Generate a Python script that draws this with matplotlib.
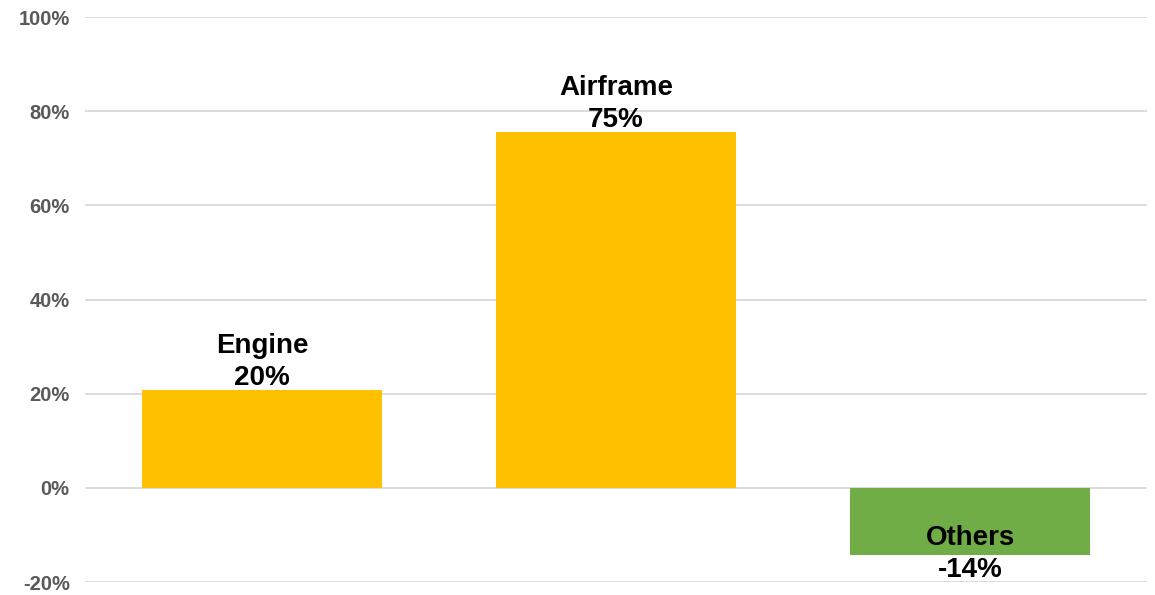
"""Bar chart: share by component (Engine / Airframe / Others)."""

import matplotlib.pyplot as plt
from matplotlib.ticker import FuncFormatter

plt.rcParams["font.family"] = ["Liberation Sans", "DejaVu Sans"]

# --- Data ---
categories = ["Engine", "Airframe", "Others"]
values = [20.8, 75.6, -14.2]
value_labels = ["20%", "75%", "-14%"]
bar_colors = ["#FFC000", "#FFC000", "#70AD47"]
y_ticks = [-20, 0, 20, 40, 60, 80, 100]

fig = plt.figure(figsize=(11.55, 5.95), dpi=100)
ax = fig.add_axes([0.0736, 0.0218, 0.9195, 0.9496])

x = range(len(categories))
bars = ax.bar(x, values, width=0.68, color=bar_colors, zorder=2)

for bar, name, lab, val in zip(bars, categories, value_labels, values):
    cx = bar.get_x() + bar.get_width() / 2
    text = f"{name}\n{lab}"
    if val >= 0:
        ax.text(cx, val - 0.3, text, ha="center", va="bottom",
                fontsize=20, fontweight="bold", linespacing=1.32, zorder=3)
    else:
        ax.text(cx, val + 0.2, text, ha="center", va="center",
                fontsize=20, fontweight="bold", linespacing=1.32, zorder=3)

ax.set_xlim(-0.5, len(categories) - 0.5)
ax.set_ylim(-20, 100)
ax.set_yticks(y_ticks)
ax.yaxis.set_major_formatter(FuncFormatter(lambda v, _: f"{v:.0f}%"))
ax.set_xticks([])
ax.tick_params(axis="y", length=0, pad=11, labelsize=14.5,
               labelcolor="#595959")
for lbl in ax.get_yticklabels():
    lbl.set_fontweight("bold")

ax.grid(axis="y", color="#d9d9d9", linewidth=1.3, zorder=0)
for side in ["top", "right", "bottom", "left"]:
    ax.spines[side].set_visible(False)

fig.savefig("out.png", dpi=100)
